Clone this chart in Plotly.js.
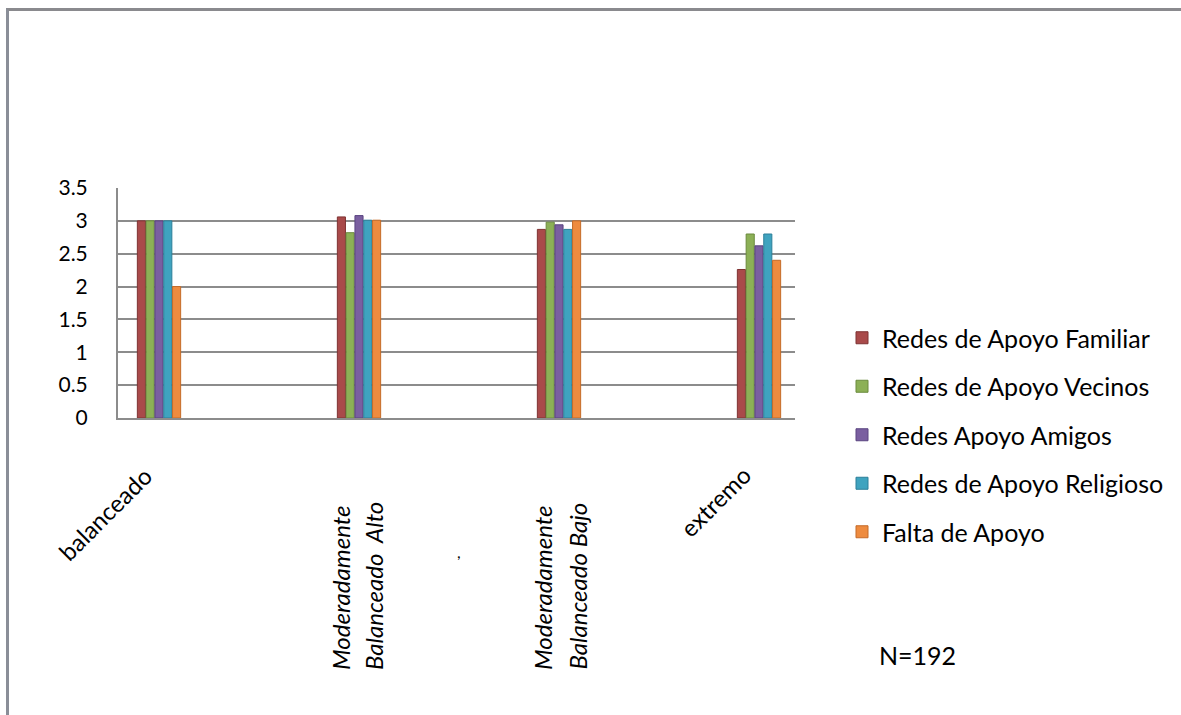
<!DOCTYPE html>
<html>
<head>
<meta charset="utf-8">
<script src="https://cdn.plot.ly/plotly-3.0.1.min.js"></script>
<style>
  html, body { margin: 0; padding: 0; background: #ffffff; }
  #wrap { position: relative; width: 1181px; height: 715px; overflow: hidden; }
  #chart { position: absolute; left: 0; top: 0; width: 1181px; height: 715px; }
  #frame { position: absolute; left: 6px; top: 8px; width: 1200px; height: 720px;
           border-top: 3px solid #8a8a8e; border-left: 3px solid #8a8e98; pointer-events: none; }
</style>
</head>
<body>
<div id="wrap">
  <div id="chart"></div>
  <div id="frame"></div>
</div>
<script>
// ---- data ----
const categories = ["balanceado", "Moderadamente Balanceado Alto", "Moderadamente Balanceado Bajo", "extremo"];
const seriesNames = ["Redes de Apoyo Familiar", "Redes de Apoyo Vecinos", "Redes Apoyo Amigos", "Redes de Apoyo Religioso", "Falta de Apoyo"];
const familiar  = [3.00, 3.06, 2.87, 2.26];
const vecinos   = [3.00, 2.82, 2.98, 2.80];
const amigos    = [3.00, 3.08, 2.94, 2.62];
const religioso = [3.00, 3.01, 2.87, 2.80];
const faltaApoyo = [2.00, 3.01, 3.00, 2.40];
const yTickVals = [0, 0.5, 1, 1.5, 2, 2.5, 3, 3.5];
const yTickText = ["0", "0.5", "1", "1.5", "2", "2.5", "3", "3.5"];
// category label lines (vertical labels are split in two lines)
const labelLines = [["balanceado"], ["Moderadamente", "Balanceado  Alto"], ["Moderadamente", "Balanceado Bajo"], ["extremo"]];
const strayMark = ",";
const noteText = "N=192";

// ---- styles ----
const colors = ["#A94A4A", "#8CB056", "#7A5FA0", "#3FA3BF", "#EE8B3F"];
const lineColors = ["#7E3232", "#6A8A3C", "#5A4480", "#2C7F99", "#C46A28"];
const values = [familiar, vecinos, amigos, religioso, faltaApoyo];
const FONT = "Lato, 'Open Sans', sans-serif";

const traces = values.map((v, i) => ({
  type: "bar",
  name: seriesNames[i],
  x: categories,
  y: v,
  legendgroup: "g" + i,
  marker: { color: colors[i], line: { color: lineColors[i], width: 1 } },
  hoverinfo: "x+y+name"
}));

const plotL = 118, plotR = 795, plotT = 188, plotB = 418;
const plotH = plotB - plotT;
const py = (ypx) => (plotB - ypx) / plotH;
const LBL = 24;

const annotations = [
  // balanceado (diagonal)
  { x: categories[0], xref: "x", xshift: 1, y: py(458), yref: "paper",
    text: labelLines[0][0], textangle: -45, showarrow: false,
    xanchor: "right", yanchor: "top", font: { family: FONT, size: LBL, color: "#000" } },
  // Moderadamente Balanceado Alto
  { x: categories[1], xref: "x", xshift: -19, y: py(672), yref: "paper",
    text: labelLines[1][0], textangle: -90, showarrow: false,
    xanchor: "center", yanchor: "bottom", font: { family: FONT, size: LBL, color: "#000", style: "italic" } },
  { x: categories[1], xref: "x", xshift: 14, y: py(672), yref: "paper",
    text: labelLines[1][1], textangle: -90, showarrow: false,
    xanchor: "center", yanchor: "bottom", font: { family: FONT, size: LBL, color: "#000", style: "italic" } },
  // Moderadamente Balanceado Bajo
  { x: categories[2], xref: "x", xshift: -17, y: py(672), yref: "paper",
    text: labelLines[2][0], textangle: -90, showarrow: false,
    xanchor: "center", yanchor: "bottom", font: { family: FONT, size: LBL, color: "#000", style: "italic" } },
  { x: categories[2], xref: "x", xshift: 18, y: py(672), yref: "paper",
    text: labelLines[2][1], textangle: -90, showarrow: false,
    xanchor: "center", yanchor: "bottom", font: { family: FONT, size: LBL, color: "#000", style: "italic" } },
  // extremo (diagonal)
  { x: categories[3], xref: "x", xshift: 0, y: py(458), yref: "paper",
    text: labelLines[3][0], textangle: -45, showarrow: false,
    xanchor: "right", yanchor: "top", font: { family: FONT, size: LBL, color: "#000" } },
  // stray comma between groups
  { x: 1.5, xref: "x", y: py(551), yref: "paper",
    text: strayMark, showarrow: false, xanchor: "center", yanchor: "middle",
    font: { family: FONT, size: 16, color: "#000" } },
  // N=192
  { x: (877 - plotL) / (plotR - plotL), xref: "paper", y: py(655), yref: "paper",
    text: noteText, showarrow: false, xanchor: "left", yanchor: "middle",
    font: { family: FONT, size: 25, color: "#000" } }
];

const layout = {
  width: 1181, height: 715,
  margin: { l: plotL, r: 1181 - plotR, t: plotT, b: 715 - plotB, pad: 0 },
  paper_bgcolor: "#ffffff", plot_bgcolor: "#ffffff",
  barmode: "group",
  bargap: 0.78,
  bargroupgap: 0.08,
  showlegend: true,
  legend: {
    x: (842 - plotL) / (plotR - plotL), xanchor: "left",
    y: py(315), yanchor: "top",
    traceorder: "grouped",
    tracegroupgap: 13,
    maxheight: 700,
    font: { family: FONT, size: 25, color: "#000" },
    bgcolor: "rgba(0,0,0,0)"
  },
  xaxis: {
    type: "category",
    categoryorder: "array", categoryarray: categories,
    range: [-0.205, 3.18],
    showticklabels: false, ticks: "",
    showgrid: false, zeroline: false,
    showline: true, linecolor: "#8c8c8c", linewidth: 2,
    fixedrange: true
  },
  yaxis: {
    range: [0, 3.5],
    tickvals: yTickVals, ticktext: yTickText,
    ticks: "outside", ticklen: 24, tickcolor: "rgba(0,0,0,0)",
    tickfont: { family: FONT, size: 21, color: "#000" },
    showgrid: true, gridcolor: "#8c8c8c", gridwidth: 2,
    zeroline: false,
    showline: true, linecolor: "#8c8c8c", linewidth: 2,
    fixedrange: true
  },
  annotations: annotations,
  font: { family: FONT }
};

Plotly.newPlot("chart", traces, layout, { displayModeBar: false, staticPlot: true });
</script>
</body>
</html>
